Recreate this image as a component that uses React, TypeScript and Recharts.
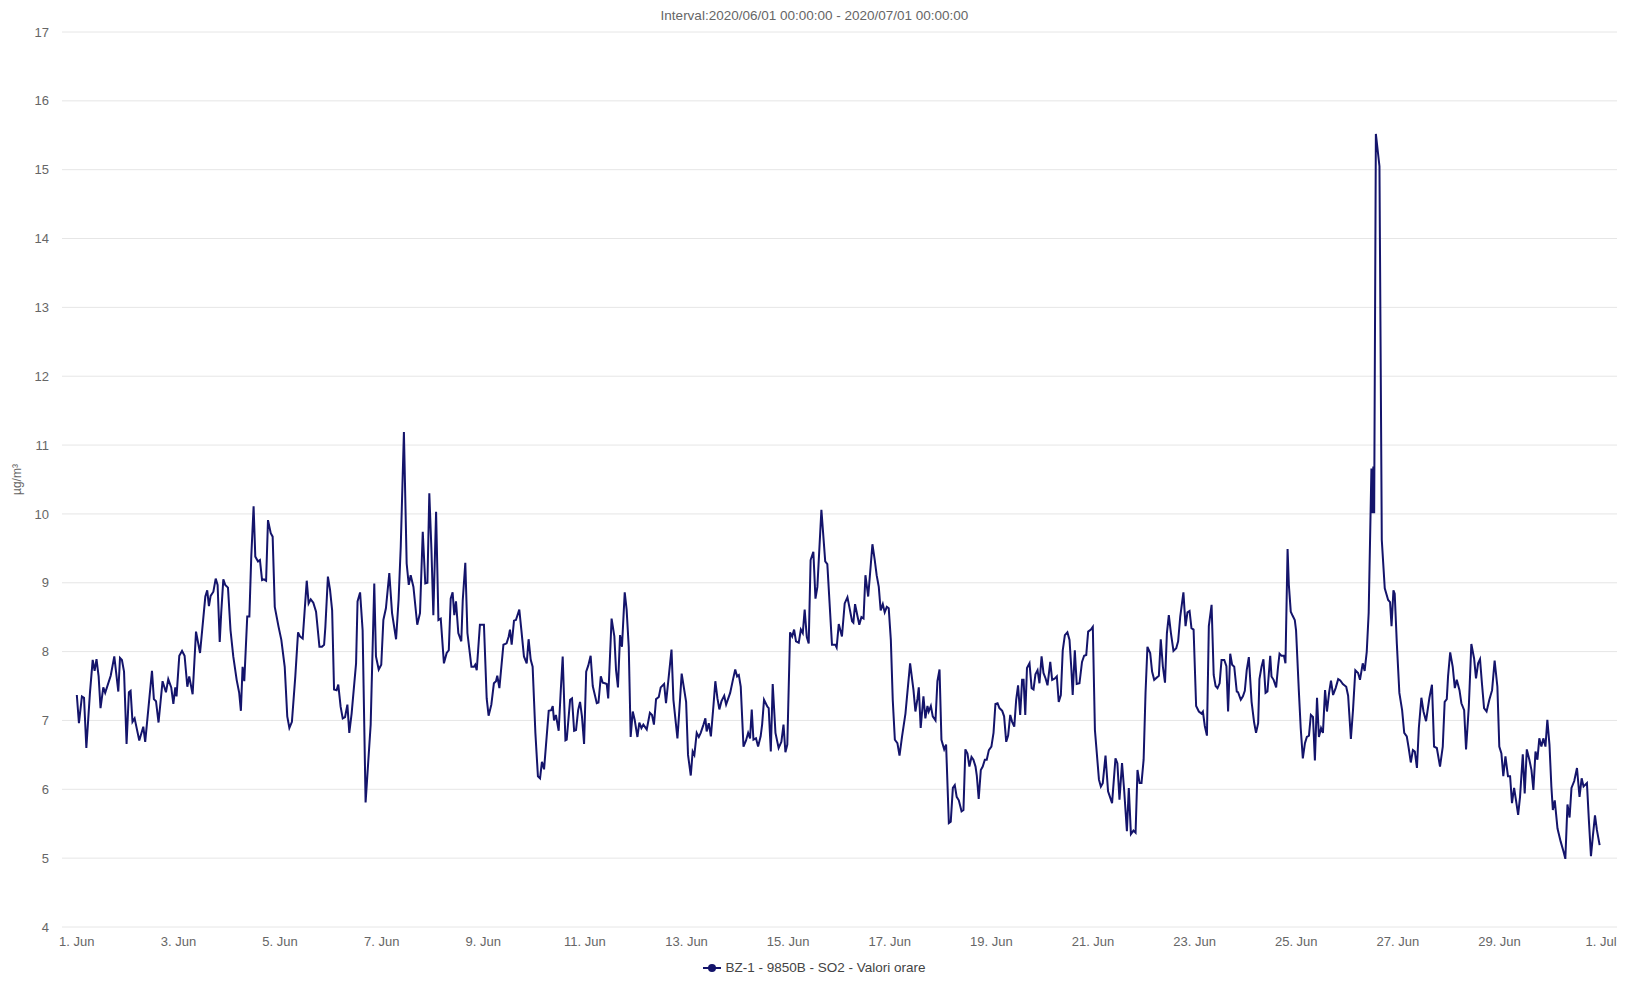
import { CartesianGrid, Line, LineChart, XAxis, YAxis } from "recharts"

// hours since 2020/06/01 00:00, SO2 µg/m³
const jun01to05: [number, number][] = [
  [0, 7.37], [1, 6.96], [2.4, 7.35], [3.4, 7.33], [4.5, 6.6], [6.2, 7.4], [7.5, 7.88], [8.4, 7.72],
  [9.3, 7.89], [10.3, 7.64], [11.2, 7.18], [12.5, 7.48], [13.4, 7.4], [16, 7.65], [17.7, 7.93],
  [19.6, 7.42], [20.4, 7.91], [21.3, 7.88], [22.3, 7.71], [23.5, 6.66], [24.6, 7.41], [25.4, 7.43],
  [26.3, 6.98], [27.3, 7.03], [29.5, 6.71], [31.4, 6.91], [32.3, 6.69], [35.5, 7.72], [36.4, 7.31],
  [37.4, 7.28], [38.6, 6.97], [40.5, 7.57], [42.1, 7.41], [43.2, 7.6], [44.6, 7.48], [45.6, 7.24],
  [46.5, 7.48], [47.1, 7.35], [48.4, 7.94], [49.7, 8.01], [50.9, 7.94], [52.2, 7.49], [53.1, 7.64],
  [54.7, 7.38], [56.3, 8.29], [58.2, 7.98], [60.7, 8.8], [61.6, 8.89], [62.4, 8.66], [63.2, 8.81],
  [64.5, 8.87], [65.6, 9.06], [66.5, 8.97], [67.5, 8.14], [68.2, 8.56], [69.2, 9.05], [70.1, 8.97],
  [71.4, 8.93], [72.6, 8.31], [73.9, 7.93], [75.5, 7.59], [76.7, 7.4], [77.5, 7.14], [78.3, 7.78],
  [79.1, 7.57], [80.5, 8.51], [81.5, 8.51], [82.4, 9.38], [83.5, 10.11], [84.3, 9.38], [85.6, 9.31],
  [86.5, 9.33], [87.5, 9.04], [88.4, 9.05], [89.4, 9.03], [90.3, 9.91], [91.6, 9.72], [92.5, 9.67],
  [93.5, 8.65], [95.3, 8.36], [96.6, 8.17], [98.2, 7.78], [99.4, 7.06], [100.4, 6.89], [101.6, 6.98],
  [103.2, 7.64], [104.5, 8.28], [105.4, 8.22], [106.7, 8.19], [108.6, 9.03], [109.5, 8.7],
  [110.5, 8.76], [111.7, 8.71], [113, 8.58], [114.6, 8.07], [115.8, 8.07], [116.8, 8.1],
]

const jun05to11: [number, number][] = [
  [117.4, 8.36], [118.6, 9.09], [119.6, 8.9], [120.6, 8.6], [121.5, 7.45], [122.7, 7.44], [123.5, 7.52],
  [124.6, 7.2], [125.6, 7.03], [126.7, 7.05], [127.8, 7.23], [128.7, 6.82], [129.8, 7.1], [131.9, 7.83],
  [132.6, 8.73], [133.8, 8.86], [135, 8.31], [136.4, 5.81], [138.8, 6.94], [140.5, 8.99], [141.3, 7.93],
  [142.6, 7.74], [143.8, 7.81], [144.8, 8.46], [146, 8.63], [147.6, 9.14], [148.9, 8.56], [150.8, 8.18],
  [152, 8.76], [153, 9.52], [154.5, 11.19], [155.8, 9.28], [156.8, 8.97], [157.7, 9.11], [159, 8.94],
  [160.8, 8.39], [162.1, 8.56], [163.4, 9.74], [164.6, 8.99], [165.6, 9.0], [166.5, 10.3], [167.5, 9.48],
  [168.4, 8.53], [169.7, 10.03], [170.8, 8.46], [171.9, 8.48], [173.4, 7.83], [174.7, 7.98],
  [175.7, 8.02], [176.6, 8.77], [177.5, 8.86], [178.3, 8.53], [179.1, 8.73], [180.2, 8.27],
  [181.6, 8.15], [182.3, 8.75], [183.5, 9.29], [184.5, 8.27], [186.4, 7.78], [187.6, 7.78],
  [188.2, 7.81], [188.9, 7.73], [190.4, 8.39], [192.3, 8.39], [193.6, 7.32], [194.5, 7.07],
  [195.8, 7.23], [197, 7.54], [198, 7.57], [198.6, 7.65], [199.6, 7.47], [201.5, 8.1], [203, 8.12],
  [204, 8.22], [204.6, 8.32], [205.4, 8.1], [206.5, 8.45], [207.4, 8.46], [209, 8.61], [210, 8.31],
  [211.2, 7.93], [212.5, 7.83], [213.4, 8.18], [214.4, 7.88], [215.3, 7.78], [216.6, 6.82],
  [217.8, 6.19], [218.8, 6.16], [219.7, 6.4], [220.7, 6.29], [222.9, 7.14], [224.1, 7.15],
  [224.8, 7.21], [225.4, 7.0], [226.3, 7.08], [227.6, 6.85], [228.6, 7.44], [229.5, 7.93],
  [230.8, 6.71], [231.4, 6.72], [233, 7.3], [233.9, 7.32], [234.9, 6.85], [235.8, 6.86],
  [236.8, 7.15], [237.7, 7.27], [238.6, 7.06], [239.6, 6.66], [240.6, 7.71], [241.6, 7.8],
]

const jun11to16: [number, number][] = [
  [242.7, 7.94], [243.7, 7.5], [245.6, 7.25], [246.4, 7.26], [247.5, 7.64], [248.4, 7.55], [249.4, 7.54],
  [250.3, 7.53], [251, 7.32], [252.6, 8.48], [253.9, 8.22], [254.7, 7.73], [255.6, 7.48], [256.6, 8.24],
  [257.5, 8.07], [258.8, 8.86], [259.7, 8.61], [260.7, 8.07], [261.6, 6.76], [262.6, 7.13],
  [263.5, 7.01], [264.8, 6.76], [265.7, 6.97], [266.7, 6.89], [267.6, 6.94], [269.2, 6.87],
  [270.7, 7.11], [271.7, 7.08], [272.6, 6.94], [273.6, 7.31], [274.9, 7.34], [275.8, 7.48],
  [277.4, 7.53], [278.3, 7.25], [279.6, 7.64], [280.9, 8.03], [281.8, 7.3], [283.7, 6.74],
  [284.6, 7.15], [285.7, 7.68], [287.8, 7.27], [288.7, 6.5], [290, 6.2], [290.9, 6.55], [291.7, 6.5],
  [292.8, 6.82], [293.8, 6.76], [294.7, 6.82], [296, 6.94], [296.9, 7.03], [297.5, 6.84], [298.5, 6.96],
  [299.5, 6.77], [300.7, 7.21], [301.6, 7.57], [302.6, 7.32], [303.5, 7.16], [304.5, 7.28],
  [305.8, 7.36], [306.7, 7.23], [308.6, 7.4], [309.9, 7.59], [311, 7.74], [311.9, 7.64], [312.7, 7.66],
  [313.6, 7.49], [314.9, 6.62], [316.1, 6.71], [317.1, 6.82], [318, 6.74], [318.8, 7.16], [319.6, 6.72],
  [320.8, 6.74], [321.8, 6.62], [323, 6.77], [323.7, 6.94], [324.6, 7.3], [326.2, 7.2], [326.8, 7.18],
  [327.8, 6.55], [328.7, 7.53], [330, 6.82], [331.5, 6.6], [332.8, 6.69], [333.8, 6.94], [334.7, 6.54],
  [335.6, 6.65], [336.9, 8.28], [337.9, 8.22], [338.8, 8.32], [339.7, 8.15], [341, 8.13], [342, 8.32],
  [342.9, 8.27], [343.8, 8.61], [344.8, 8.21], [345.7, 8.12], [346.6, 9.33], [347.9, 9.45],
  [348.9, 8.77], [349.8, 8.94], [351.7, 10.06], [353.5, 9.31], [354.5, 9.27], [356.7, 8.1],
  [358.3, 8.1], [358.9, 8.06], [359.9, 8.4], [361.4, 8.22],
]

const jun16to21: [number, number][] = [
  [362.7, 8.7], [364, 8.79], [364.9, 8.65], [366.2, 8.44], [366.8, 8.42], [367.6, 8.69], [368.7, 8.52],
  [369.6, 8.39], [370.6, 8.5], [371.6, 8.48], [372.5, 9.11], [373.8, 8.8], [374.7, 9.14], [375.8, 9.56],
  [376.9, 9.33], [377.8, 9.11], [378.8, 8.94], [379.7, 8.6], [380.7, 8.69], [381.6, 8.57],
  [382.6, 8.65], [383.5, 8.63], [384.5, 8.17], [385.4, 7.3], [386.4, 6.72], [387.6, 6.67],
  [388.6, 6.49], [389.8, 6.77], [391.4, 7.1], [392.3, 7.4], [393.6, 7.83], [395.2, 7.44], [396.1, 7.13],
  [397.1, 7.32], [397.7, 7.48], [398.6, 6.89], [399.9, 7.35], [400.8, 7.03], [401.8, 7.21],
  [402.4, 7.13], [403.4, 7.21], [404.3, 7.06], [405.6, 7.0], [406.5, 7.57], [407.5, 7.74],
  [408.4, 6.72], [409.7, 6.58], [410.6, 6.65], [411.9, 5.51], [412.8, 5.53], [413.8, 6.02],
  [414.7, 6.06], [415.6, 5.89], [416.6, 5.84], [417.9, 5.68], [418.8, 5.7], [419.7, 6.58],
  [420.7, 6.52], [421.6, 6.33], [422.6, 6.47], [423.5, 6.43], [424.5, 6.33], [425.1, 6.2], [426, 5.86],
  [427, 6.28], [427.9, 6.33], [428.9, 6.43], [429.8, 6.43], [430.8, 6.57], [432, 6.62], [433, 6.82],
  [433.9, 7.24], [434.9, 7.25], [435.8, 7.18], [437.1, 7.14], [438, 7.06], [439, 6.69], [439.9, 6.78],
  [440.9, 7.08], [441.8, 6.98], [442.8, 6.91], [443.7, 7.3], [444.6, 7.51], [445.6, 7.08],
  [446.5, 7.59], [447.2, 7.59], [448, 7.08], [448.8, 7.76], [450, 7.83], [451, 7.47], [451.9, 7.45],
  [452.8, 7.67], [453.8, 7.73], [454.7, 7.54], [455.7, 7.93], [456.6, 7.69], [457.6, 7.61],
  [458.5, 7.51], [459.8, 7.85], [460.7, 7.59], [462, 7.61], [462.9, 7.64], [463.8, 7.27], [464.8, 7.37],
  [465.7, 8.02], [466.7, 8.24], [467.9, 8.28], [468.9, 8.17], [469.8, 7.73], [470.4, 7.37],
  [471.4, 8.02], [472.3, 7.53], [473.6, 7.54], [474.8, 7.85], [475.8, 7.94], [476.8, 7.95],
  [477.7, 8.29], [479, 8.32], [479.9, 8.36], [480.9, 6.86], [481.8, 6.52], [482.8, 6.14],
  [483.7, 6.04], [484.6, 6.09],
]

const jun21to26: [number, number][] = [
  [485.9, 6.49], [487.1, 5.97], [489, 5.8], [490.6, 6.45], [491.5, 6.38], [492.5, 5.85], [493.7, 6.38],
  [494.7, 5.99], [496, 5.39], [496.9, 6.02], [497.9, 5.35], [499.1, 5.4], [500.1, 5.37], [501, 6.28],
  [502, 6.09], [502.9, 6.09], [503.9, 6.43], [504.8, 7.4], [505.7, 8.07], [507, 7.98], [507.9, 7.71],
  [508.9, 7.59], [511.1, 7.65], [512, 8.18], [513, 7.78], [514, 7.55], [514.9, 8.27], [515.8, 8.53],
  [516.8, 8.27], [518, 8.01], [519.3, 8.05], [520.2, 8.15], [521.2, 8.51], [522.7, 8.86], [523.7, 8.37],
  [524.6, 8.57], [525.6, 8.59], [526.5, 8.34], [527.5, 8.32], [528.7, 7.21], [530, 7.13], [531.2, 7.1],
  [531.9, 7.13], [532.8, 6.92], [533.8, 6.78], [534.7, 8.37], [536, 8.68], [537, 7.66], [537.9, 7.5],
  [538.8, 7.47], [539.8, 7.54], [540.7, 7.88], [542, 7.88], [543, 7.79], [543.8, 7.13], [544.8, 7.97],
  [545.7, 7.81], [546.7, 7.78], [547.9, 7.42], [548.5, 7.41], [549.8, 7.3], [550.8, 7.35],
  [551.7, 7.43], [552.6, 7.73], [553.6, 7.92], [554.9, 7.27], [556.1, 6.97], [557, 6.82], [558, 6.96],
  [558.6, 7.6], [559.6, 7.78], [560.5, 7.89], [561.5, 7.4], [562.4, 7.42], [563.7, 7.94], [564.3, 7.64],
  [565.3, 7.59], [566.5, 7.48], [567.4, 7.78], [568.1, 7.97], [569, 7.94], [570.2, 7.94], [570.9, 7.83],
  [571.9, 9.49], [572.5, 8.97], [573.4, 8.58], [574.3, 8.52], [575.3, 8.46], [575.9, 8.31],
  [577.2, 7.44], [578.1, 6.89], [579.1, 6.45], [580.1, 6.67], [581, 6.76], [582, 6.78], [582.9, 7.08],
  [583.9, 7.05], [584.8, 6.42], [585.8, 7.33], [586.7, 6.76], [587.7, 6.89], [588.6, 6.82],
  [589.6, 7.44], [590.5, 7.13], [591.5, 7.4], [592.4, 7.58], [593.4, 7.37], [594.6, 7.47], [595.8, 7.6],
  [596.8, 7.58], [598, 7.53], [599.6, 7.49], [600.5, 7.36], [601.8, 6.73], [602.8, 7.15],
  [603.9, 7.73], [605.2, 7.69], [606.1, 7.59], [607.4, 7.83], [608.3, 7.72], [609.3, 8.0],
  [610.2, 8.56],
]

const jun26to30: [number, number][] = [
  [611.5, 10.66], [612, 10.01], [612.4, 10.69], [612.8, 10.01], [613.6, 15.52], [615.3, 15.05],
  [616.4, 9.62], [617.8, 8.92], [619.4, 8.75], [620.3, 8.72], [621, 8.37], [621.9, 8.89], [622.5, 8.84],
  [623.5, 8.12], [624.7, 7.4], [626, 7.15], [627, 6.82], [628.2, 6.77], [629.1, 6.6], [630.1, 6.39],
  [631.1, 6.57], [632, 6.55], [633, 6.31], [633.9, 6.89], [635.1, 7.33], [636.1, 7.13], [637.3, 6.99],
  [638.9, 7.33], [640.1, 7.52], [641.1, 6.62], [642.4, 6.6], [643.9, 6.33], [645.2, 6.62],
  [646.1, 7.27], [647.1, 7.31], [647.7, 7.64], [648.7, 7.99], [649.9, 7.78], [650.9, 7.47],
  [651.8, 7.59], [653.1, 7.44], [654, 7.25], [655.3, 7.15], [656.2, 6.58], [657.5, 7.2], [658.7, 8.11],
  [660, 7.9], [660.9, 7.61], [661.9, 7.83], [662.8, 7.89], [663.7, 7.54], [664.7, 7.18], [665.9, 7.13],
  [667.2, 7.3], [668.5, 7.44], [669.7, 7.87], [671, 7.49], [671.9, 6.62], [672.9, 6.52], [673.8, 6.19],
  [674.8, 6.48], [676, 6.19], [677, 6.19], [677.9, 5.8], [678.9, 6.02], [679.8, 5.84], [680.8, 5.63],
  [681.7, 5.89], [683, 6.51], [683.9, 5.94], [684.9, 6.58], [686.1, 6.43], [687.1, 6.28], [688, 5.99],
  [689, 6.55], [689.9, 6.43], [690.8, 6.74], [691.8, 6.62], [692.7, 6.74], [693.7, 6.62], [694.6, 7.01],
  [695.6, 6.65], [696.5, 6.04], [697.2, 5.7], [698.1, 5.84], [699.4, 5.43], [700.9, 5.24], [702.2, 5.1],
  [703.1, 4.99], [704.1, 5.78], [705.1, 5.59], [706, 6.02], [707.3, 6.12], [708.6, 6.31], [709.8, 5.89],
  [710.8, 6.16], [711.7, 6.04], [712.3, 6.06], [713.3, 6.09], [714.2, 5.56], [715.2, 5.03],
  [716.1, 5.32], [717.1, 5.62], [718, 5.41], [719.3, 5.19],
]

const xTicks = [0, 48, 96, 144, 192, 240, 288, 336, 384, 432, 480, 528, 576, 624, 672, 720]
const xTickLabels = [
  "1. Jun", "3. Jun", "5. Jun", "7. Jun", "9. Jun", "11. Jun", "13. Jun", "15. Jun",
  "17. Jun", "19. Jun", "21. Jun", "23. Jun", "25. Jun", "27. Jun", "29. Jun", "1. Jul",
]
const yTicks = [4, 5, 6, 7, 8, 9, 10, 11, 12, 13, 14, 15, 16, 17]

const seriesName = "BZ-1 - 9850B - SO2 - Valori orare"
const title = "Interval:2020/06/01 00:00:00 - 2020/07/01 00:00:00"
const unit = "µg/m³"

const data = [...jun01to05, ...jun05to11, ...jun11to16, ...jun16to21, ...jun21to26, ...jun26to30].map(
  ([hour, so2]) => ({ hour, so2 })
)

const font = '"Liberation Sans", Arial, Helvetica, sans-serif'
const navy = "#14146b"

function UnitLabel({ viewBox }: any) {
  const cy = viewBox.y + viewBox.height / 2
  return (
    <text
      x={17}
      y={cy}
      transform={`rotate(-90 17 ${cy})`}
      textAnchor="middle"
      dominantBaseline="central"
      fill="#666"
      fontSize={12}
      fontFamily={font}
    >
      {unit}
    </text>
  )
}

export default function App() {
  return (
    <div style={{ position: "absolute", left: 0, top: 0, width: 1629, height: 981, background: "#fff", fontFamily: font }}>
      <div style={{ position: "absolute", top: 8, left: 0, width: 1629, textAlign: "center", fontSize: 13.5, color: "#666" }}>
        {title}
      </div>
      <LineChart width={1629} height={981} data={data} margin={{ top: 32, right: 12, left: 0, bottom: 0 }}>
        <CartesianGrid vertical={false} stroke="#e6e6e6" />
        <XAxis
          dataKey="hour"
          type="number"
          domain={[-7, 727.5]}
          ticks={xTicks}
          tickFormatter={(v) => xTickLabels[xTicks.indexOf(v)] ?? ""}
          tickLine={false}
          axisLine={false}
          tickMargin={4}
          height={54}
          allowDataOverflow
          tick={{ fill: "#666", fontSize: 13, fontFamily: font }}
        />
        <YAxis
          type="number"
          domain={[4, 17]}
          ticks={yTicks}
          interval={0}
          tickLine={false}
          axisLine={false}
          tickMargin={7}
          width={62}
          tick={{ fill: "#666", fontSize: 13, fontFamily: font }}
          label={{ content: UnitLabel }}
        />
        <Line
          type="linear"
          dataKey="so2"
          stroke={navy}
          strokeWidth={2}
          dot={false}
          isAnimationActive={false}
        />
      </LineChart>
      <div style={{ position: "absolute", top: 960, left: 0, width: 1629, display: "flex", justifyContent: "center", alignItems: "center", fontSize: 13.5, color: "#444" }}>
        <svg width={18} height={12} style={{ marginRight: 4 }}>
          <line x1={0} y1={6} x2={18} y2={6} stroke={navy} strokeWidth={2} />
          <circle cx={9} cy={6} r={4} fill={navy} />
        </svg>
        <span>{seriesName}</span>
      </div>
    </div>
  )
}
